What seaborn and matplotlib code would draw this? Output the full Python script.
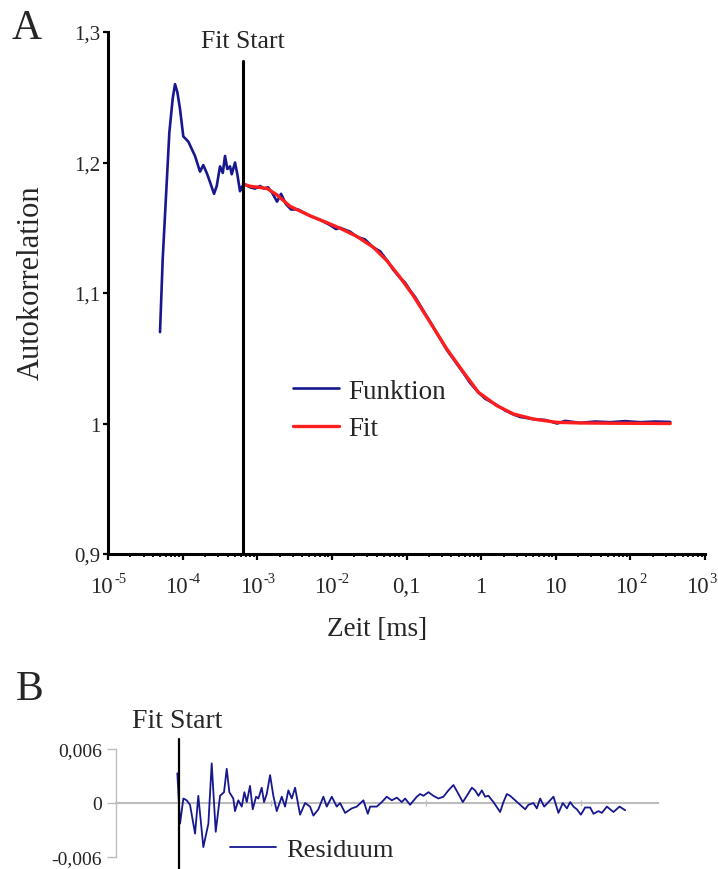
import numpy as np
import pandas as pd
import matplotlib
matplotlib.use("Agg")
import matplotlib.pyplot as plt
from matplotlib.ticker import FixedLocator, LogLocator, NullLocator, NullFormatter
from matplotlib.transforms import blended_transform_factory
import seaborn as sns

# ---------------- data ----------------
# Panel A: measured autocorrelation ("Funktion"), log10 of time in ms
pre_log_t = [-4.303, -4.267, -4.178, -4.133, -4.102, -4.071, -4.035, -3.991, -3.924, -3.834,
             -3.767, -3.723, -3.677, -3.633, -3.579, -3.543, -3.499, -3.462, -3.432, -3.401,
             -3.365, -3.342, -3.298, -3.267, -3.231, -3.209]
pre_g = [1.070, 1.126, 1.223, 1.249, 1.260, 1.254, 1.241, 1.220, 1.216, 1.205,
         1.193, 1.198, 1.192, 1.185, 1.176, 1.182, 1.197, 1.192, 1.205, 1.195,
         1.197, 1.191, 1.200, 1.191, 1.178, 1.181]
post_log_t = [-3.177, -3.097, -3.029, -2.962, -2.909, -2.855, -2.802, -2.735, -2.681, -2.614,
              -2.547, -2.453, -2.292, -2.158, -2.024, -1.944, -1.890, -1.756, -1.662, -1.555,
              -1.448, -1.354, -1.260, -1.180, -1.086, -1.019, -0.952, -0.885, -0.684, -0.456,
              -0.241, -0.147, -0.040, 0.054, 0.214, 0.322, 0.429, 0.523, 0.697, 0.858,
              1.019, 1.126, 1.260, 1.327, 1.528, 1.729, 1.930, 2.131, 2.332, 2.534]
post_g = [1.1835, 1.181, 1.180, 1.182, 1.180, 1.181, 1.177, 1.170, 1.176, 1.168,
          1.164, 1.164, 1.159, 1.156, 1.152, 1.149, 1.150, 1.147, 1.143, 1.141,
          1.135, 1.132, 1.125, 1.118, 1.1115, 1.108, 1.102, 1.097, 1.078, 1.056,
          1.039, 1.031, 1.024, 1.019, 1.014, 1.010, 1.007, 1.005, 1.0034, 1.0027,
          1.000, 1.002, 1.001, 1.0005, 1.0015, 1.001, 1.0018, 1.001, 1.0015, 1.0012]

# Panel A: fit curve
fit_log_t = [-3.186, -3.097, -2.985, -2.873, -2.739, -2.560, -2.292, -2.024, -1.890, -1.666,
             -1.444, -1.264, -1.086, -0.908, -0.684, -0.460, -0.237, -0.036, 0.210, 0.433,
             0.700, 1.013, 1.327, 1.773, 2.534]
fit_g = [1.1835, 1.1818, 1.1810, 1.1802, 1.1753, 1.1664, 1.1592, 1.1529, 1.1496, 1.1434,
         1.1350, 1.1248, 1.1120, 1.0979, 1.0776, 1.0571, 1.0393, 1.0239, 1.0137, 1.0073,
         1.0034, 1.0009, 1.0004, 1.0002, 1.0000]

fit_start_ms = 6.5e-4

# Panel B: residuals
res_log_t = [-3.208, -3.173, -3.130, -3.087, -3.044, -2.979, -2.937, -2.872, -2.807, -2.764,
             -2.712, -2.656, -2.605, -2.570, -2.536, -2.485, -2.463, -2.420, -2.376, -2.342,
             -2.311, -2.269, -2.234, -2.191, -2.161, -2.118, -2.088, -2.053, -2.010, -1.968,
             -1.924,
             -1.859, -1.817, -1.774, -1.730, -1.687, -1.623, -1.558, -1.494, -1.451, -1.386,
             -1.322, -1.278, -1.213, -1.149, -1.106, -1.041, -0.955, -0.890, -0.805, -0.748,
             -0.718, -0.632, -0.567, -0.503, -0.438, -0.373, -0.309, -0.266, -0.202, -0.115,
             -0.072, -0.030, 0.035, 0.099, 0.164, 0.229, 0.293, 0.358, 0.423, 0.479,
             0.531, 0.596, 0.638, 0.681, 0.725, 0.767, 0.810, 0.875, 0.961, 1.004,
             1.048, 1.090, 1.155, 1.220, 1.284, 1.327, 1.391, 1.435, 1.478, 1.530,
             1.585, 1.650, 1.714, 1.771, 1.823, 1.866, 1.908, 1.952, 2.004, 2.059,
             2.124, 2.167, 2.231, 2.275, 2.340, 2.425, 2.503, 2.576]
res_val = [0.0033, -0.0023, 0.0005, 0.0003, -0.0002, -0.0034, 0.0008, -0.0049, -0.0023, 0.0044,
           -0.0032, 0.0008, 0.0012, 0.0038, 0.0012, 0.0005, -0.0009, 0.0003, -0.0004, 0.0012,
           0.0001, 0.0019, -0.0007, 0.0007, 0.0005, 0.0017, 0.0001, 0.0010, 0.0031, 0.0008,
           -0.0009,
           0.0007, -0.0004, 0.0014, 0.0005, 0.0017, -0.0013, 0.0000, -0.0004, -0.0014, -0.0007,
           0.0007, -0.0004, 0.0007, -0.0004, 0.0000, -0.0011, -0.0006, -0.0004, 0.0003, -0.0012,
           -0.0004, -0.0004, 0.0001, 0.0007, 0.0003, 0.0006, 0.0001, 0.0005, -0.0002, 0.0007,
           0.0010, 0.0008, 0.0012, 0.0008, 0.0005, 0.0007, 0.0014, 0.0020, 0.0010, 0.0001,
           0.0008, 0.0017, 0.0014, 0.0008, 0.0014, 0.0007, 0.0008, 0.0001, -0.0010, 0.0001,
           0.0010, 0.0008, 0.0003, -0.0002, -0.0007, -0.0002, 0.0000, -0.0006, 0.0005, -0.0004,
           0.0001, 0.0007, -0.0011, 0.0000, -0.0006, 0.0001, -0.0004, -0.0007, -0.0013, -0.0005,
           -0.0005, -0.0012, -0.0009, -0.0011, -0.0004, -0.0010, -0.0004, -0.0008]

x_ticks_A = [1e-5, 1e-4, 1e-3, 1e-2, 1e-1, 1, 10, 1e2, 1e3]
x_label_base = ['10', '10', '10', '10', '0,1', '1', '10', '10', '10']
x_label_sup = ['-5', '-4', '-3', '-2', '', '', '', '2', '3']
y_ticks_A = [0.9, 1.0, 1.1, 1.2, 1.3]
y_labels_A = ['0,9', '1', '1,1', '1,2', '1,3']
y_ticks_B = [-0.006, 0.0, 0.006]
y_labels_B = ['-0,006', '0', '0,006']

# ---------------- style ----------------
sns.set_style("white")
plt.rcParams['font.family'] = ['Liberation Serif', 'DejaVu Serif']

BLUE = '#17178f'
RED = '#ff1e1e'
GRAY = '#bdbdbd'

W, H = 718, 870
fig = plt.figure(figsize=(W / 100, H / 100), dpi=100)


def px_box(l, t, r, b):
    return [l / W, 1 - b / H, (r - l) / W, (b - t) / H]


PT = 0.72  # points per pixel at 100 dpi

# ---------------- panel A ----------------
axA = fig.add_axes(px_box(108, 33, 705, 555))
df_fun = pd.DataFrame({'t': 10.0 ** np.array(pre_log_t + post_log_t), 'g': pre_g + post_g})
df_fit = pd.DataFrame({'t': 10.0 ** np.array(fit_log_t), 'g': fit_g})
sns.lineplot(data=df_fun, x='t', y='g', ax=axA, color=BLUE, lw=1.9,
             estimator=None, sort=False, label='Funktion')
sns.lineplot(data=df_fit, x='t', y='g', ax=axA, color=RED, lw=2.4,
             estimator=None, sort=False, label='Fit')
axA.set_xscale('log')
axA.set_xlim(1e-5, 1e3)
axA.set_ylim(0.9, 1.3)
axA.set_xlabel('')
axA.set_ylabel('')
for s in ['top', 'right']:
    axA.spines[s].set_visible(False)
for s in ['left', 'bottom']:
    axA.spines[s].set_color('black')
    axA.spines[s].set_linewidth(2.2)
axA.xaxis.set_major_locator(FixedLocator(x_ticks_A))
axA.xaxis.set_major_formatter(NullFormatter())
axA.xaxis.set_minor_locator(LogLocator(base=10, subs=np.arange(2, 10), numticks=50))
axA.xaxis.set_minor_formatter(NullFormatter())
axA.yaxis.set_major_locator(FixedLocator(y_ticks_A))
axA.set_yticklabels(y_labels_A)
axA.yaxis.set_minor_locator(NullLocator())
axA.tick_params(axis='x', which='major', bottom=True, direction='out', length=4.5,
                width=1.6, color='black', labelbottom=False)
axA.tick_params(axis='x', which='minor', bottom=True, direction='out', length=2.5,
                width=1.3, color='black')
axA.tick_params(axis='y', which='major', left=True, direction='out', length=3.5,
                width=1.6, color='black', labelsize=15, pad=2)

# x tick labels with small raised exponents
trans = blended_transform_factory(axA.transData, axA.transAxes)
BASE_FS, SUP_FS = 16.5, 10.5
for i, (tick, base, sup) in enumerate(zip(x_ticks_A, x_label_base, x_label_sup)):
    shift = -4 if i == len(x_ticks_A) - 1 else 0
    if sup:
        w_base = 0.5 * len(base) * BASE_FS          # width in points
        w_sup = (0.333 if sup.startswith('-') else 0) * SUP_FS + 0.5 * SUP_FS
        x0 = -(w_base + w_sup) / 2 + shift * PT
        axA.annotate(base, xy=(tick, 0), xycoords=trans, xytext=(x0, -38 * PT),
                     textcoords='offset points', ha='left', va='baseline', fontsize=BASE_FS)
        axA.annotate(sup, xy=(tick, 0), xycoords=trans, xytext=(x0 + w_base + 0.5, -28 * PT),
                     textcoords='offset points', ha='left', va='baseline', fontsize=SUP_FS)
    else:
        axA.annotate(base, xy=(tick, 0), xycoords=trans, xytext=(shift * PT, -38 * PT),
                     textcoords='offset points', ha='center', va='baseline', fontsize=BASE_FS)

axA.axvline(fit_start_ms, ymin=0, ymax=0.944, color='black', lw=2.2, zorder=3)
axA.legend(loc='center left', bbox_to_anchor=(293 / W, 1 - 411 / H),
           bbox_transform=fig.transFigure, frameon=False, fontsize=19.5,
           handlelength=1.7, handletextpad=0.35, labelspacing=0.45,
           borderpad=0, borderaxespad=0)

fig.text(27 / W, 1 - 29 / H, 'A', fontsize=30, ha='center', va='center')
fig.text(243 / W, 1 - 42 / H, 'Fit Start', fontsize=18.5, ha='center', va='center')
fig.text(31 / W, 1 - 283 / H, 'Autokorrelation', fontsize=22, rotation=90,
         ha='center', va='center')
fig.text(377 / W, 1 - 629 / H, 'Zeit [ms]', fontsize=19.5, ha='center', va='center')

# ---------------- panel B ----------------
axB = fig.add_axes(px_box(116, 750, 658, 858))
df_res = pd.DataFrame({'t': 10.0 ** np.array(res_log_t), 'r': res_val})
sns.lineplot(data=df_res, x='t', y='r', ax=axB, color=BLUE, lw=1.3,
             estimator=None, sort=False, label='Residuum', zorder=3)
axB.set_xscale('log')
axB.set_xlim(1e-4, 1e3)
axB.set_ylim(-0.006, 0.006)
axB.set_xlabel('')
axB.set_ylabel('')
for s in ['top', 'right']:
    axB.spines[s].set_visible(False)
axB.spines['left'].set_color(GRAY)
axB.spines['left'].set_linewidth(1.0)
axB.spines['bottom'].set_position(('data', 0))
axB.spines['bottom'].set_color(GRAY)
axB.spines['bottom'].set_linewidth(1.5)
axB.spines['bottom'].set_zorder(1)
axB.xaxis.set_major_locator(FixedLocator([1e-2, 1, 1e2]))
axB.xaxis.set_minor_locator(NullLocator())
axB.xaxis.set_major_formatter(NullFormatter())
axB.tick_params(axis='x', which='major', bottom=True, direction='inout', length=4,
                width=1.0, color=GRAY, labelbottom=False)
axB.yaxis.set_major_locator(FixedLocator(y_ticks_B))
axB.set_yticklabels(y_labels_B)
axB.yaxis.set_minor_locator(NullLocator())
axB.tick_params(axis='y', which='major', left=True, direction='out', length=6.5,
                width=1.0, color=GRAY, labelsize=14, labelcolor='#222222', pad=3.5)
axB.axvline(fit_start_ms, ymin=-0.15, ymax=1.09, color='black', lw=1.6,
            clip_on=False, zorder=4)
axB.legend(loc='center left', bbox_to_anchor=(230 / W, 1 - 850 / H),
           bbox_transform=fig.transFigure, frameon=False, fontsize=19,
           handlelength=1.75, handletextpad=0.38, borderpad=0, borderaxespad=0)

fig.text(30 / W, 1 - 690 / H, 'B', fontsize=30, ha='center', va='center')
fig.text(177 / W, 1 - 722 / H, 'Fit Start', fontsize=20, ha='center', va='center')

fig.savefig('out.png', dpi=100)
